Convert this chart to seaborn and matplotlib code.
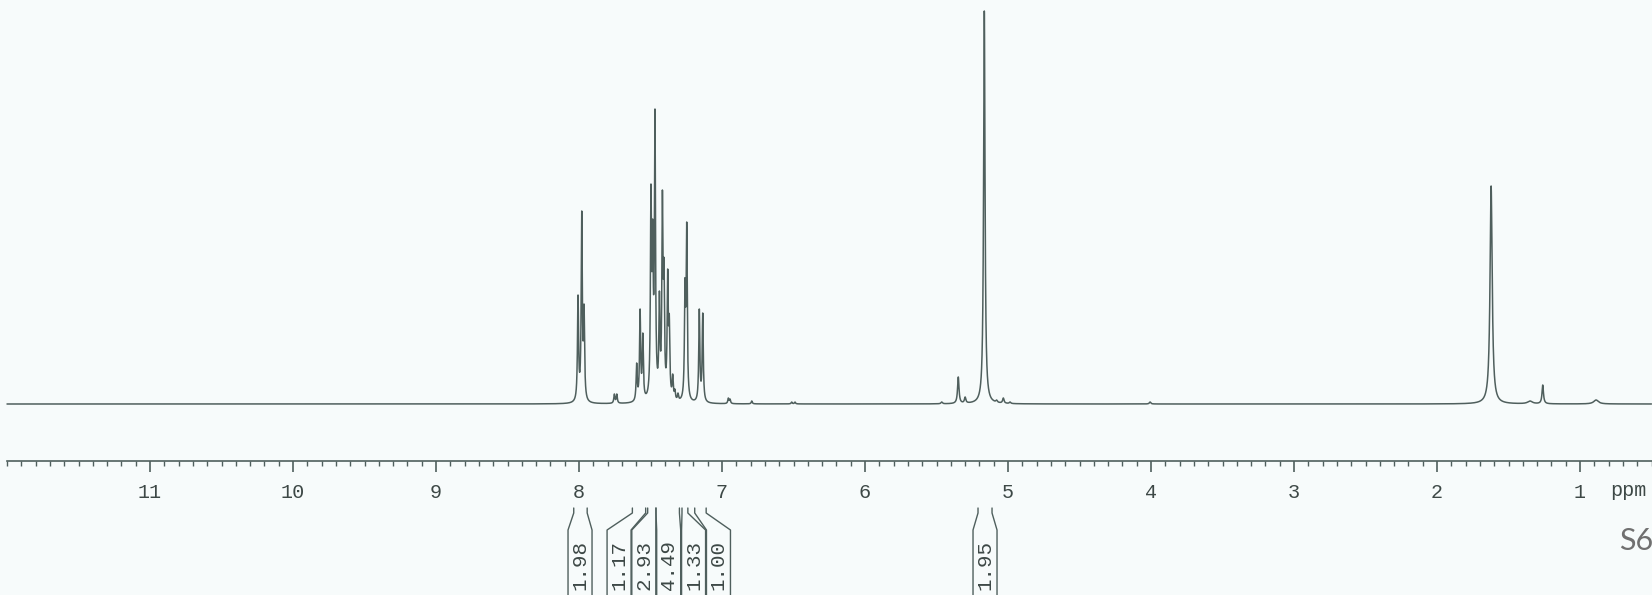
import numpy as np
import pandas as pd
import matplotlib
matplotlib.use("Agg")
import matplotlib.pyplot as plt
from matplotlib.ticker import MultipleLocator
import seaborn as sns

# peak list: shift (ppm), apex height (px above baseline), half width (ppm)
peak_ppm = [8.007, 7.981, 7.965, 7.753, 7.736, 7.597, 7.573, 7.554,
            7.497, 7.485, 7.469, 7.438, 7.417, 7.406, 7.380, 7.369, 7.345, 7.330, 7.308,
            7.259, 7.247, 7.159, 7.135, 6.956, 6.944, 6.792, 6.513, 6.490,
            5.464, 5.348, 5.300, 5.166, 5.105, 5.080, 5.033, 4.986, 4.007,
            1.622, 1.350, 1.261, 0.888]
peak_height = [109, 193, 100, 10, 10, 41, 95, 71,
               220, 185, 295, 113, 214, 146, 135, 90, 30, 15, 11,
               126, 182, 95, 91, 6, 5, 3, 2, 2,
               2, 27, 7, 393, 4, 4, 6, 2, 2,
               218, 3, 19, 4]
peak_hw = [0.0045] * 28 + [0.006] * 9 + [0.009, 0.02, 0.006, 0.02]

# integrals: region edges (ppm), label position (ppm), value
integral_labels = ["1.98", "1.17", "2.93", "4.49", "1.33", "1.00", "1.95"]
integral_from = [8.037, 7.627, 7.520, 7.462, 7.280, 7.191, 5.210]
integral_to = [7.943, 7.534, 7.462, 7.298, 7.239, 7.111, 5.112]
integral_at = [7.993, 7.720, 7.547, 7.373, 7.199, 7.025, 5.161]

tick_values = [11, 10, 9, 8, 7, 6, 5, 4, 3, 2, 1]

line_col = "#4f5f5d"
text_col = "#3d4846"
bg = "#f7fbfb"

# build the trace from the peak list
shift = np.arange(12.0, 0.5, -0.0005)
c = np.array(peak_ppm)
g = np.array(peak_hw)
h = np.array(peak_height, dtype=float)
M = g[None, :] ** 2 / ((c[:, None] - c[None, :]) ** 2 + g[None, :] ** 2)
amp = np.linalg.solve(M, h)
amp = np.clip(amp, 0, None)
inten = (amp[None, :] * g[None, :] ** 2 /
         ((shift[:, None] - c[None, :]) ** 2 + g[None, :] ** 2)).sum(axis=1)
df = pd.DataFrame({"ppm": shift, "intensity": inten})

sns.set_theme(style="white")
plt.rcParams["font.family"] = ["Liberation Mono", "DejaVu Sans"]

fig = plt.figure(figsize=(16.52, 5.95), dpi=100, facecolor=bg)
ax = fig.add_axes([0, 0, 1, 1], facecolor=bg)

sns.lineplot(data=df, x="ppm", y="intensity", ax=ax, color=line_col,
             linewidth=1.1, estimator=None, sort=False)

ax.set_xlim(12.049, 0.497)
ax.set_ylim(-191, 404)

# ppm axis
axis_y = -57
for s in ["left", "right", "top"]:
    ax.spines[s].set_visible(False)
ax.spines["bottom"].set_position(("data", axis_y))
ax.spines["bottom"].set_bounds(12.0, 0.497)
ax.spines["bottom"].set_color(line_col)
ax.spines["bottom"].set_linewidth(1.2)
ax.set_xticks(tick_values)
ax.set_xticklabels([str(t) for t in tick_values])
ax.xaxis.set_minor_locator(MultipleLocator(0.1))
ax.tick_params(axis="x", which="major", direction="out", length=8, width=1.2,
               color=line_col, labelcolor=text_col, labelsize=14.5, pad=8,
               bottom=True)
ax.tick_params(axis="x", which="minor", direction="out", length=3.5, width=1.0,
               color=line_col, bottom=True)
ax.set_yticks([])
ax.set_xlabel("")
ax.set_ylabel("")
ax.text(0.664, axis_y - 29, "ppm", fontsize=14.5, color=text_col,
        ha="center", va="center")

# integral brackets
y_top, y_b1, y_b2, y_end = -104, -109, -126, -200
box_hw = 12 / 143
for lab, a, b, m in zip(integral_labels, integral_from, integral_to, integral_at):
    ax.plot([a, a, m + box_hw, m + box_hw], [y_top, y_b1, y_b2, y_end],
            color=line_col, lw=1.0)
    ax.plot([b, b, m - box_hw, m - box_hw], [y_top, y_b1, y_b2, y_end],
            color=line_col, lw=1.0)
    ax.text(m, -161, lab, rotation=90, fontsize=15, color=text_col,
            ha="center", va="center")

fig.text(1619 / 1652, 1 - 541 / 595, "S62", fontsize=22, color="#707070",
         family="Lato", ha="left", va="center")

fig.savefig("out.png", dpi=100, facecolor=bg)
